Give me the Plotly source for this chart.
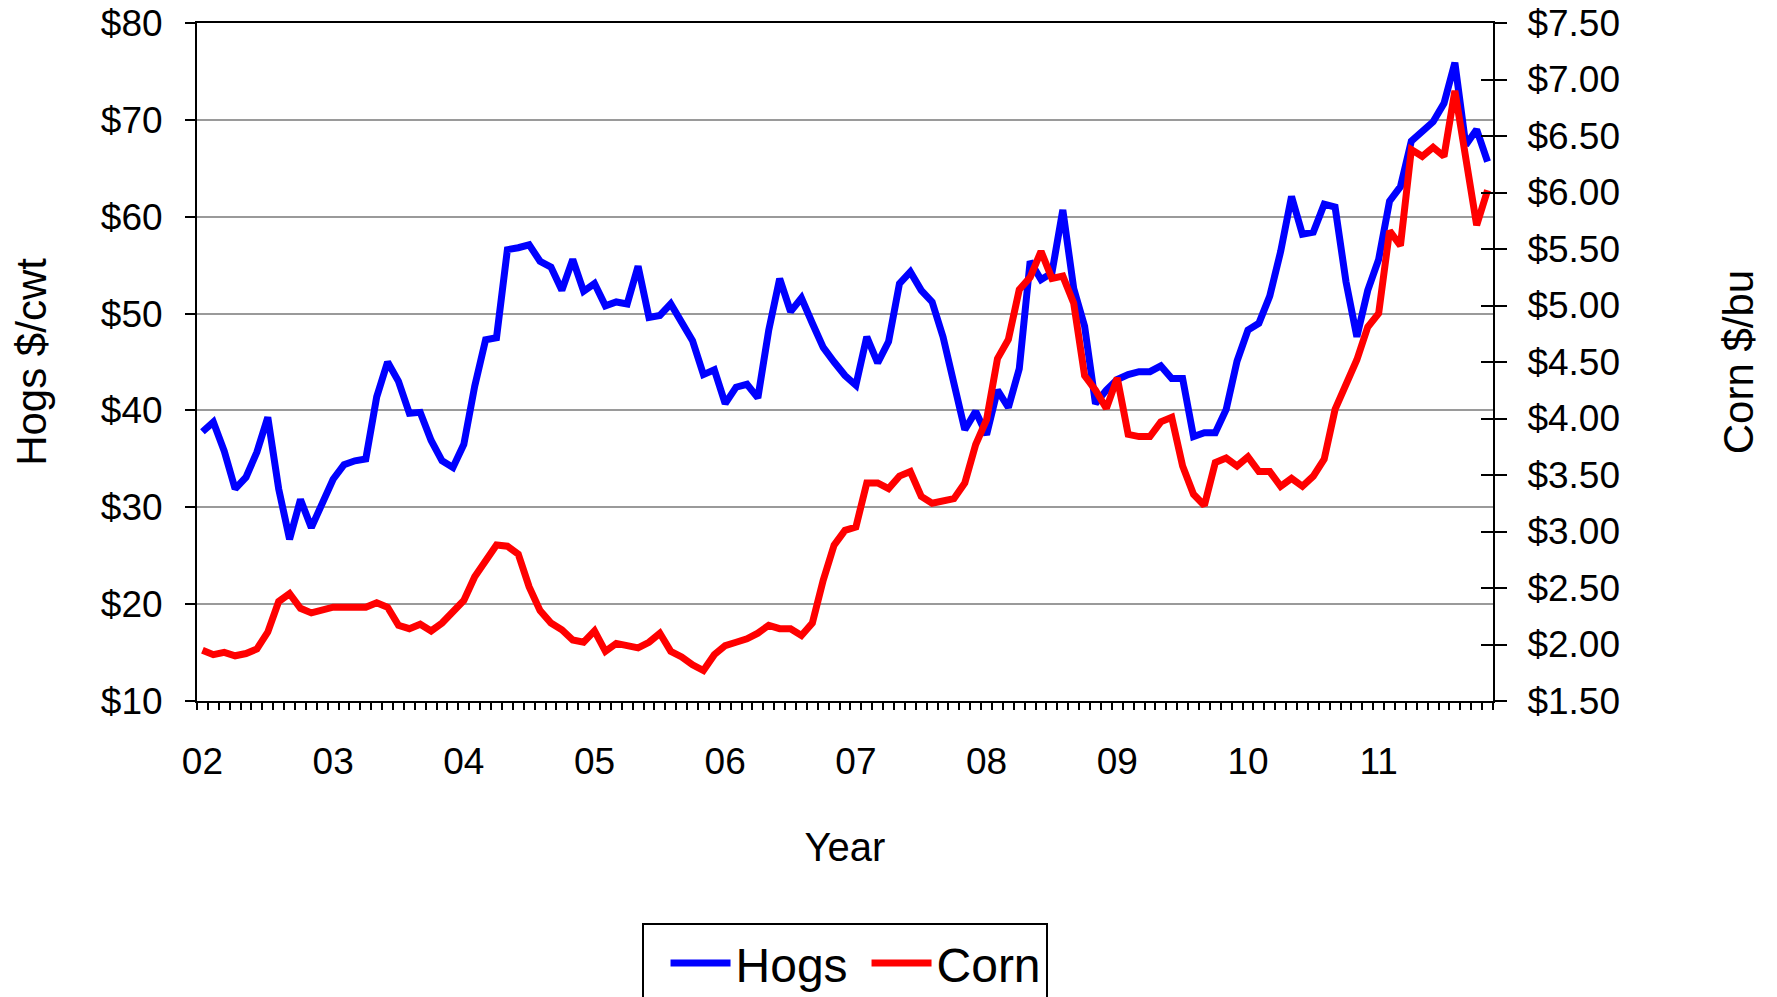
import plotly.graph_objects as go

# Monthly data, Jan 2002 - Nov 2011 (119 months)
year_labels = ["02", "03", "04", "05", "06", "07", "08", "09", "10", "11"]

hogs = [
    37.8, 38.8, 35.8, 31.9, 33.1, 35.7, 39.3, 31.9, 26.7, 30.8, 27.9, 30.6,
    32.9, 34.4, 34.8, 35.0, 41.4, 45.0, 43.0, 39.7, 39.8, 36.9, 34.8, 34.1,
    36.5, 42.5, 47.3, 47.5, 56.6, 56.8, 57.1, 55.4, 54.8, 52.4, 55.6, 52.3,
    53.1, 50.8, 51.2, 51.0, 54.9, 49.6, 49.8, 51.0, 49.2, 47.2, 43.7, 44.2,
    40.7, 42.4, 42.7, 41.3, 48.3, 53.6, 50.2, 51.6, 49.0, 46.5, 45.0, 43.6,
    42.6, 47.6, 44.9, 47.1, 53.1, 54.3, 52.4, 51.2, 47.6, 42.5, 38.0, 39.9,
    37.5, 42.1, 40.3, 44.3, 55.4, 53.5, 54.2, 60.7, 52.6, 48.7, 40.7, 42.1,
    43.2, 43.7, 44.0, 44.0, 44.6, 43.3, 43.3, 37.3, 37.7, 37.7, 40.1, 45.1,
    48.3, 49.0, 51.8, 56.4, 62.1, 58.2, 58.4, 61.3, 61.0, 53.3, 47.6, 52.4,
    55.6, 61.6, 63.1, 67.8, 68.8, 69.8, 71.7, 75.9, 67.4, 69.0, 65.7,
]

corn = [
    1.95, 1.91, 1.93, 1.90, 1.92, 1.96, 2.11, 2.38, 2.45, 2.32, 2.28, 2.31,
    2.33, 2.33, 2.33, 2.33, 2.37, 2.33, 2.17, 2.14, 2.18, 2.12, 2.19, 2.30,
    2.39, 2.60, 2.75, 2.88, 2.87, 2.80, 2.51, 2.30, 2.19, 2.13, 2.04, 2.02,
    2.12, 1.94, 2.01, 1.99, 1.97, 2.02, 2.10, 1.94, 1.89, 1.82, 1.77, 1.91,
    1.99, 2.02, 2.05, 2.10, 2.17, 2.14, 2.14, 2.08, 2.19, 2.57, 2.88, 3.01,
    3.04, 3.43, 3.43, 3.38, 3.49, 3.53, 3.31, 3.25, 3.27, 3.29, 3.43, 3.77,
    3.99, 4.53, 4.70, 5.14, 5.25, 5.48, 5.24, 5.26, 5.02, 4.38, 4.25, 4.09,
    4.36, 3.86, 3.84, 3.84, 3.97, 4.01, 3.58, 3.33, 3.23, 3.61, 3.65, 3.58,
    3.66, 3.53, 3.53, 3.40, 3.47, 3.40, 3.49, 3.64, 4.08, 4.31, 4.52, 4.81,
    4.93, 5.66, 5.53, 6.38, 6.32, 6.40, 6.32, 6.90, 6.30, 5.71, 6.02,
]

hog_ticks = [10, 20, 30, 40, 50, 60, 70, 80]
hog_tick_labels = ["$10", "$20", "$30", "$40", "$50", "$60", "$70", "$80"]
corn_ticks = [1.5, 2.0, 2.5, 3.0, 3.5, 4.0, 4.5, 5.0, 5.5, 6.0, 6.5, 7.0, 7.5]
corn_tick_labels = ["$1.50", "$2.00", "$2.50", "$3.00", "$3.50", "$4.00", "$4.50",
                    "$5.00", "$5.50", "$6.00", "$6.50", "$7.00", "$7.50"]

n = len(hogs)
x_idx = list(range(n))
label_pos = [12 * k for k in range(len(year_labels))]
boundary_ticks = [k - 0.5 for k in range(n + 1)]

FONT = "Arial, Liberation Sans, sans-serif"

fig = go.Figure()
fig.add_trace(go.Scatter(x=x_idx, y=hogs, name="Hogs", mode="lines",
                         line=dict(color="#0000FF", width=7)))
fig.add_trace(go.Scatter(x=x_idx, y=corn, name="Corn", mode="lines", yaxis="y2",
                         line=dict(color="#FF0000", width=7)))
# invisible helper trace so the inner tick marks on the right axis are drawn
fig.add_trace(go.Scatter(x=[None], y=[None], yaxis="y3", showlegend=False,
                         hoverinfo="skip"))

fig.update_layout(
    width=1777, height=997,
    paper_bgcolor="white", plot_bgcolor="white",
    margin=dict(l=189, r=292, t=15, b=304, autoexpand=False),
    font=dict(family=FONT, color="black"),
    xaxis=dict(
        range=[-0.5, n - 0.5],
        tickmode="array", tickvals=label_pos, ticktext=year_labels,
        ticks="", ticklabelstandoff=27,
        tickfont=dict(size=37, family=FONT),
        showgrid=False, zeroline=False,
        showline=True, linecolor="black", linewidth=2, mirror=True,
        minor=dict(tickmode="array", tickvals=boundary_ticks, ticks="outside",
                   ticklen=7, tickwidth=2, tickcolor="black", showgrid=False),
        title=dict(text="Year", font=dict(size=40, family=FONT), standoff=52),
    ),
    yaxis=dict(
        range=[10, 80], tickmode="array", tickvals=hog_ticks, ticktext=hog_tick_labels,
        tickfont=dict(size=37, family=FONT), ticklabeloverflow="allow",
        ticks="outside", ticklen=10, tickwidth=2, tickcolor="black",
        ticklabelstandoff=15,
        showgrid=True, gridcolor="#9a9a9a", gridwidth=1.5, zeroline=False,
        showline=True, linecolor="black", linewidth=2,
        title=dict(text="Hogs $/cwt", font=dict(size=42, family=FONT), standoff=45),
    ),
    yaxis2=dict(
        range=[1.5, 7.5], tickmode="array", tickvals=corn_ticks, ticktext=corn_tick_labels,
        tickfont=dict(size=37, family=FONT), ticklabeloverflow="allow",
        ticks="outside", ticklen=12, tickwidth=2, tickcolor="black",
        ticklabelstandoff=13,
        overlaying="y", side="right", anchor="x",
        showgrid=False, zeroline=False,
        showline=True, linecolor="black", linewidth=2,
        title=dict(text="Corn $/bu", font=dict(size=42, family=FONT), standoff=105),
    ),
    yaxis3=dict(
        range=[1.5, 7.5], tickmode="array", tickvals=corn_ticks,
        ticks="inside", ticklen=12, tickwidth=2, tickcolor="black",
        showticklabels=False, overlaying="y", side="right", anchor="x",
        showgrid=False, zeroline=False, showline=False,
    ),
    showlegend=True,
    legend=dict(
        orientation="h", x=0.343, xanchor="left", y=-0.328, yanchor="top",
        font=dict(size=48, family=FONT), bordercolor="black", borderwidth=2,
        bgcolor="white", itemwidth=60, entrywidth=104, entrywidthmode="pixels",
        indentation=22, traceorder="normal",
    ),
)

fig.write_html("out.html")
